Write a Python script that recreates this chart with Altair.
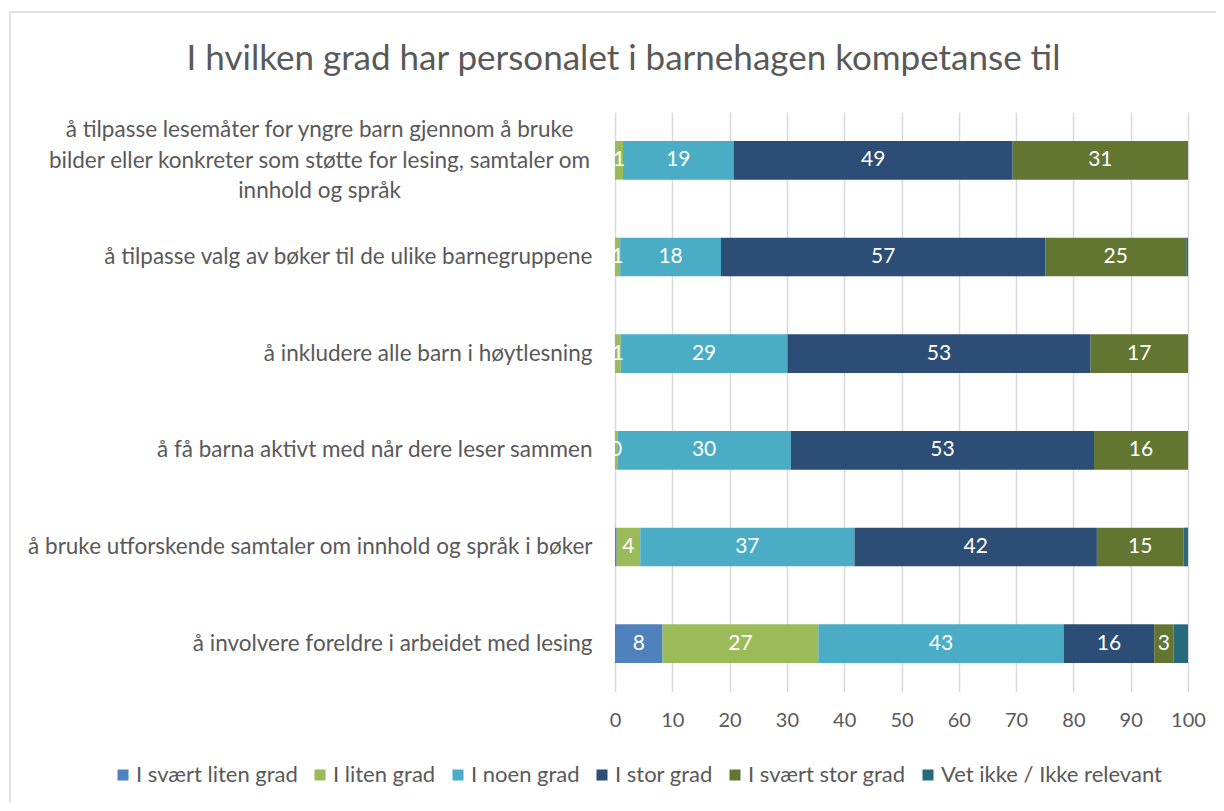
import altair as alt
import pandas as pd

# Categories (top to bottom); "|" marks a line break in the axis label
categories = [
    "å tilpasse lesemåter for yngre barn gjennom å  bruke|bilder eller konkreter som støtte for lesing, samtaler om|innhold og språk",
    "å tilpasse valg av bøker til de ulike barnegruppene",
    "å inkludere alle barn i høytlesning",
    "å få barna aktivt med når dere leser sammen",
    "å bruke utforskende samtaler om innhold og språk i bøker",
    "å involvere foreldre i arbeidet med lesing",
]

series = [
    "I svært liten grad",
    "I liten grad",
    "I noen grad",
    "I stor grad",
    "I svært stor grad",
    "Vet ikke / Ikke relevant",
]

colors = ["#4F81BD", "#9BBB59", "#4BACC6", "#2C4D75", "#627531", "#276A7C"]

svaert_liten = [0.0, 0.0, 0.0, 0.0, 0.3, 8.3]
liten = [1.4, 0.9, 1.0, 0.4, 4.1, 27.2]
noen = [19.3, 17.6, 29.1, 30.3, 37.4, 42.8]
stor = [48.7, 56.6, 52.9, 52.9, 42.3, 15.8]
svaert_stor = [30.6, 24.6, 17.0, 16.4, 15.1, 3.4]
vet_ikke = [0.0, 0.3, 0.0, 0.0, 0.8, 2.5]

x_ticks = [0, 10, 20, 30, 40, 50, 60, 70, 80, 90, 100]

title_text = "I hvilken grad har personalet i barnehagen kompetanse til"

all_series = [svaert_liten, liten, noen, stor, svaert_stor, vet_ikke]
rows = []
for si, (name, vals) in enumerate(zip(series, all_series)):
    for ci, cat in enumerate(categories):
        rows.append({"cat": cat, "serie": name, "order": si, "value": vals[ci]})
df = pd.DataFrame(rows)
df = df[df["value"] > 0]

FONT = "Lato"
GREY = "#595959"
BORDER = "#D9D9D9"
MULTI = "indexof(datum.value, '|') >= 0"

base = alt.Chart(df).transform_stack(
    stack="value",
    groupby=["cat"],
    as_=["x0", "x1"],
    sort=[alt.SortField("order", order="ascending")],
).transform_calculate(mid="(datum.x0 + datum.x1) / 2")

y_enc = alt.Y(
    "cat:N",
    sort=categories,
    scale=alt.Scale(paddingInner=0.6, paddingOuter=0.3),
    axis=alt.Axis(
        title=None,
        domain=False,
        ticks=False,
        labelExpr="split(datum.label, '|')",
        labelAlign={"condition": {"test": MULTI, "value": "center"}, "value": "right"},
        labelPadding={"condition": {"test": MULTI, "value": 296}, "value": 23},
        labelOffset={"condition": {"test": MULTI, "value": -30}, "value": 0},
        labelLineHeight=30.5,
        labelLimit=700,
        labelOverlap=False,
        labelFont=FONT,
        labelFontSize=22.5,
        labelColor=GREY,
    ),
)

bars = base.mark_bar().encode(
    x=alt.X(
        "x0:Q",
        scale=alt.Scale(domain=[0, 100], nice=False),
        axis=alt.Axis(
            title=None,
            values=x_ticks,
            domain=False,
            ticks=False,
            grid=True,
            gridColor=BORDER,
            gridWidth=1.5,
            labelFlush=False,
            labelPadding=18,
            labelFont=FONT,
            labelFontSize=20,
            labelColor=GREY,
        ),
    ),
    x2="x1:Q",
    y=y_enc,
    color=alt.Color(
        "serie:N",
        scale=alt.Scale(domain=series, range=colors),
        legend=alt.Legend(
            title=None,
            orient="none",
            direction="horizontal",
            legendX=-503,
            legendY=652,
            columns=6,
            columnPadding=11,
            symbolType="square",
            symbolSize=121,
            symbolStrokeWidth=0,
            labelFont=FONT,
            labelFontSize=22,
            labelColor=GREY,
            labelOffset=2,
            labelLimit=400,
        ),
    ),
    order=alt.Order("order:Q"),
)

labels = base.transform_filter(
    "datum.value >= 0.35 && datum.serie != 'Vet ikke / Ikke relevant'"
).mark_text(color="white", font=FONT, fontSize=21, baseline="middle", align="center").encode(
    x=alt.X("mid:Q"),
    y=alt.Y("cat:N", sort=categories),
    text=alt.Text("value:Q", format=".0f"),
)

# light grey chart-area frame (left and top edges, as in the reference)
frame_data = alt.Data(values=[{"k": 0}])
frame_left = alt.Chart(frame_data).mark_rule(color=BORDER, strokeWidth=1.5).encode(
    x=alt.value(-605), y=alt.value(-100), y2=alt.value(700)
)
frame_top = alt.Chart(frame_data).mark_rule(color=BORDER, strokeWidth=1.5).encode(
    x=alt.value(-605), x2=alt.value(620), y=alt.value(-100)
)

chart = (
    alt.layer(frame_left, frame_top, bars, labels)
    .properties(
        width=573,
        height=580,
        autosize=alt.AutoSizeParams(type="none"),
        padding={"left": 607, "top": 104, "right": 28, "bottom": 111},
        title=alt.TitleParams(
            title_text,
            anchor="middle",
            dx=-278,
            offset=-94,
            baseline="alphabetic",
            font=FONT,
            fontSize=35,
            fontWeight="normal",
            color=GREY,
        ),
    )
    .configure_view(stroke=None)
)

chart.save("out.html", embed_options={"renderer": "svg", "actions": False})
